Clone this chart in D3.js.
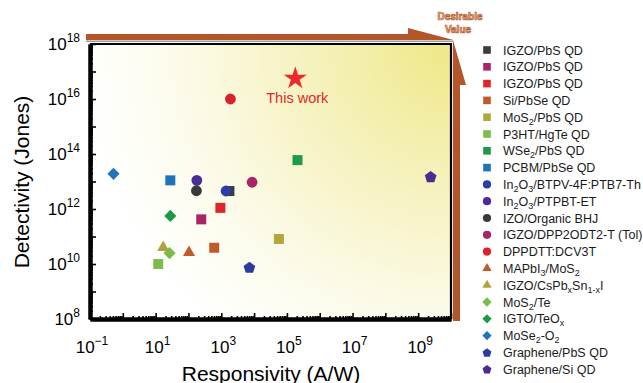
<!DOCTYPE html>
<html>
<head>
<meta charset="utf-8">
<script src="https://cdn.jsdelivr.net/npm/d3@7"></script>
<style>
  html, body { margin: 0; padding: 0; background: #fff; }
  svg { display: block; font-family: "Liberation Sans", Arial, sans-serif; }
</style>
</head>
<body>
<div id="chart"></div>
<script>
// reported devices (legend order)
const seriesNames = [
  'IGZO/PbS QD', 'IGZO/PbS QD', 'IGZO/PbS QD', 'Si/PbSe QD', 'MoS_2/PbS QD',
  'P3HT/HgTe QD', 'WSe_2/PbS QD', 'PCBM/PbSe QD', 'In_2O_3/BTPV-4F:PTB7-Th',
  'In_2O_3/PTPBT-ET', 'IZO/Organic BHJ', 'IGZO/DPP2ODT2-T (Tol)', 'DPPDTT:DCV3T',
  'MAPbI_3/MoS_2', 'IGZO/CsPb_xSn_{1-x}I', 'MoS_2/Te', 'IGTO/TeO_x', 'MoSe_2-O_2',
  'Graphene/PbS QD', 'Graphene/Si QD'
];
// responsivity (A/W)
const responsivity = [
  1770, 245, 940, 610, 5.7e4,
  12, 2.1e5, 28, 1400,
  180, 175, 8700, 1900,
  104, 17, 26.5, 28, 0.52,
  7200, 2.4e9
];
// detectivity (Jones)
const detectivity = [
  4.5e12, 4.2e11, 1.1e12, 3.9e10, 8.1e10,
  1.0e10, 6.0e13, 1.1e13, 4.5e12,
  1.1e13, 4.6e12, 9.4e12, 1.0e16,
  2.6e10, 4.0e10, 2.5e10, 5.6e11, 1.9e13,
  7.6e9, 1.5e13
];
// this work
const thisWork = { label: 'This work', responsivity: 1.8e5, detectivity: 5.6e16 };

const xTickExponents = [-1, 1, 3, 5, 7, 9];
const yTickExponents = [8, 10, 12, 14, 16, 18];

// marker styles
const markerShapes = [
  'square', 'square', 'square', 'square', 'square',
  'square', 'square', 'square', 'circle',
  'circle', 'circle', 'circle', 'circle',
  'triangle', 'triangle', 'diamond', 'diamond', 'diamond',
  'pentagon', 'pentagon'
];
const markerColors = [
  '#3b3b3b', '#aa2468', '#e0252a', '#c2592c', '#b3a63b',
  '#7dbd4c', '#1d9a4b', '#2073b8', '#2d3ca6',
  '#4a2d96', '#3a3a3a', '#a8236a', '#d9232b',
  '#c25a29', '#b2a23c', '#7abb4a', '#1b994b', '#2073b8',
  '#2c3ba0', '#4a2b8f'
];

const W = 643, H = 383;
const margin = { top: 44, right: 192, bottom: 64, left: 90 };
const plotW = W - margin.left - margin.right;   // 361
const plotH = H - margin.top - margin.bottom;   // 275

const svg = d3.select('#chart').append('svg')
  .attr('width', W)
  .attr('height', H);

const x = d3.scaleLog().domain([1e-1, 1e10]).range([margin.left, margin.left + plotW]);
const y = d3.scaleLog().domain([1e8, 1e18]).range([margin.top + plotH, margin.top]);

// background gradient
const defs = svg.append('defs');
const grad = defs.append('radialGradient')
  .attr('id', 'bg')
  .attr('gradientUnits', 'userSpaceOnUse')
  .attr('cx', margin.left + plotW).attr('cy', margin.top)
  .attr('r', 370);
grad.append('stop').attr('offset', 0).attr('stop-color', '#eee886');
grad.append('stop').attr('offset', 0.4).attr('stop-color', '#f6f2c0');
grad.append('stop').attr('offset', 0.75).attr('stop-color', '#fcfbeb');
grad.append('stop').attr('offset', 1).attr('stop-color', '#ffffff');

svg.append('rect')
  .attr('x', margin.left).attr('y', margin.top)
  .attr('width', plotW).attr('height', plotH)
  .attr('fill', 'url(#bg)');

// "desirable value" arrows
const brown = '#b4552a';
const xr = margin.left + plotW + 2;
svg.append('rect')
  .attr('x', margin.left - 4).attr('y', 40.5)
  .attr('width', plotW + 6).attr('height', 1.5)
  .attr('fill', '#9a9a9a');
svg.append('path')
  .attr('fill', brown)
  .attr('d', `M${margin.left - 4},34 L408,34 L408,28 L${xr + 0.5},40 L${margin.left - 4},40 Z`);
svg.append('path')
  .attr('fill', brown)
  .attr('d', `M${xr},40 L${xr + 13},85 L${xr + 7},85 L${xr + 7},${margin.top + plotH + 2} L${xr},${margin.top + plotH + 2} Z`);
svg.append('text')
  .attr('x', 460).attr('y', 20)
  .attr('text-anchor', 'middle')
  .attr('font-size', 10).attr('font-weight', 'bold')
  .attr('fill', '#f4c9a4').attr('stroke', '#b4552a').attr('stroke-width', 0.7)
  .text('Desirable');
svg.append('text')
  .attr('x', 458).attr('y', 33)
  .attr('text-anchor', 'middle')
  .attr('font-size', 10).attr('font-weight', 'bold')
  .attr('fill', '#f4c9a4').attr('stroke', '#b4552a').attr('stroke-width', 0.7)
  .text('Value');

// frame (top / right)
svg.append('path')
  .attr('fill', 'none').attr('stroke', '#000').attr('stroke-width', 2.2)
  .attr('d', `M${margin.left},${margin.top} L${margin.left + plotW},${margin.top} L${margin.left + plotW},${margin.top + plotH}`);

// axes
function minorTicks(lo, hi) {
  const t = [];
  for (let e = lo; e < hi; e++) {
    for (let m = 2; m <= 9; m++) t.push(m * Math.pow(10, e));
  }
  return t;
}
const xDecades = d3.range(-1, 11).map(e => Math.pow(10, e));
const yDecades = d3.range(8, 19).map(e => Math.pow(10, e));

function styleAxis(g) {
  g.select('.domain').attr('stroke', '#000').attr('stroke-width', 4);
  g.selectAll('.tick line').attr('stroke', '#000').attr('stroke-width', 1.6);
  g.selectAll('.tick text').remove();
}

const gx = svg.append('g').attr('transform', `translate(0,${margin.top + plotH})`);
gx.append('g').call(d3.axisBottom(x).tickValues(minorTicks(-1, 10)).tickSize(-3).tickSizeOuter(0).tickFormat(''))
  .call(styleAxis);
gx.append('g').call(d3.axisBottom(x).tickValues(xDecades).tickSize(-6).tickSizeOuter(0).tickFormat(''))
  .call(styleAxis);

const gy = svg.append('g').attr('transform', `translate(${margin.left},0)`);
gy.append('g').call(d3.axisLeft(y).tickValues(minorTicks(8, 18)).tickSize(-3).tickSizeOuter(0).tickFormat(''))
  .call(styleAxis);
gy.append('g').call(d3.axisLeft(y).tickValues(yDecades).tickSize(-6).tickSizeOuter(0).tickFormat(''))
  .call(styleAxis);

// tick labels with superscript exponents
function powerLabel(sel, e) {
  sel.append('tspan').attr('font-size', 17).text('10');
  sel.append('tspan').attr('font-size', 12).attr('dy', -8).text(String(e).replace('-', '\u2212'));
}
xTickExponents.forEach(e => {
  svg.append('text')
    .attr('x', x(Math.pow(10, e)) + 2).attr('y', 353)
    .attr('text-anchor', 'middle')
    .attr('font-size', 17)
    .call(powerLabel, e);
});
yTickExponents.forEach(e => {
  svg.append('text')
    .attr('x', 80).attr('y', y(Math.pow(10, e)) + 6)
    .attr('text-anchor', 'end')
    .attr('font-size', 17)
    .call(powerLabel, e);
});

// axis titles
svg.append('text')
  .attr('transform', `translate(29,${182}) rotate(-90)`)
  .attr('text-anchor', 'middle')
  .attr('font-size', 21)
  .text('Detectivity (Jones)');
svg.append('text')
  .attr('x', 271).attr('y', 381)
  .attr('text-anchor', 'middle')
  .attr('font-size', 21)
  .text('Responsivity (A/W)');

// symbols
const symbolPentagon = {
  draw(ctx, size) {
    const r = Math.sqrt(size / 2.3776);
    for (let i = 0; i < 5; i++) {
      const a = -Math.PI / 2 + i * 2 * Math.PI / 5;
      const px = r * Math.cos(a), py = r * Math.sin(a) + r * 0.1;
      if (i) ctx.lineTo(px, py); else ctx.moveTo(px, py);
    }
    ctx.closePath();
  }
};
const shapeTypes = {
  square: d3.symbolSquare, circle: d3.symbolCircle, triangle: d3.symbolTriangle,
  diamond: d3.symbolSquare, pentagon: symbolPentagon
};
const shapeSizes = { square: 100, circle: 92, triangle: 64, diamond: 74, pentagon: 90 };

function marker(sel, shape, color, scale) {
  sel.append('path')
    .attr('d', d3.symbol().type(shapeTypes[shape]).size(shapeSizes[shape] * scale)())
    .attr('transform', shape === 'diamond' ? 'rotate(45)' : null)
    .attr('fill', color);
}

// data points
const plot = svg.append('g');
seriesNames.forEach((name, i) => {
  plot.append('g')
    .attr('transform', `translate(${x(responsivity[i])},${y(detectivity[i])})`)
    .call(marker, markerShapes[i], markerColors[i], 1);
});

// this work
plot.append('path')
  .attr('transform', `translate(${x(thisWork.responsivity)},${y(thisWork.detectivity)})`)
  .attr('d', d3.symbol().type(d3.symbolStar).size(165)())
  .attr('fill', '#ee2a2a');
plot.append('text')
  .attr('x', x(thisWork.responsivity) + 2).attr('y', 102.5)
  .attr('text-anchor', 'middle')
  .attr('font-size', 14.5)
  .attr('fill', '#e0282a')
  .text(thisWork.label);

// legend
function richText(sel, label) {
  const re = /_\{([^}]*)\}|_(\S)/g;
  let last = 0, m, shifted = false;
  while ((m = re.exec(label)) !== null) {
    if (m.index > last) {
      sel.append('tspan').attr('dy', shifted ? -3 : null).text(label.slice(last, m.index));
      shifted = false;
    }
    sel.append('tspan').attr('font-size', 9).attr('dy', shifted ? null : 3).text(m[1] || m[2]);
    shifted = true;
    last = re.lastIndex;
  }
  if (last < label.length) sel.append('tspan').attr('dy', shifted ? -3 : null).text(label.slice(last));
}

const legend = svg.append('g');
seriesNames.forEach((name, i) => {
  const cy = 50 + i * 16.8;
  legend.append('g')
    .attr('transform', `translate(487,${cy})`)
    .call(marker, markerShapes[i], markerColors[i], 0.58);
  legend.append('text')
    .attr('x', 503).attr('y', cy + 4.5)
    .attr('font-size', 12.5)
    .attr('fill', '#1a1a1a')
    .call(richText, name);
});
</script>
</body>
</html>
